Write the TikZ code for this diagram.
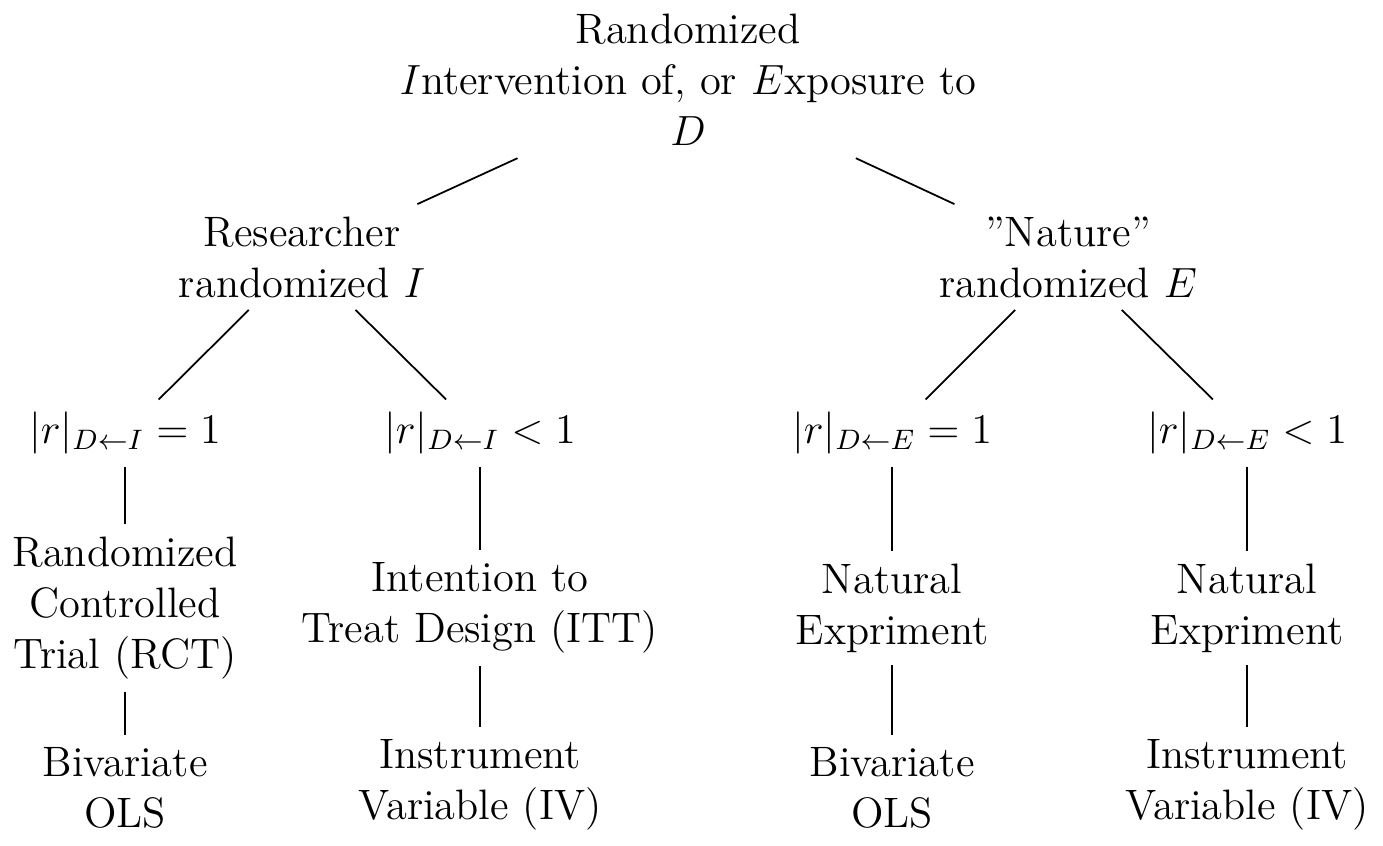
\documentclass[tikz,border=0pt]{standalone}
\usepackage{amsmath}
\begin{document}
\begin{tikzpicture}[x=0.01cm,y=-0.01cm,
  every node/.style={align=center,font=\fontsize{12.1pt}{14.5pt}\selectfont},
  link/.style={draw,line width=0.5pt}]
\useasboundingbox (0,0) rectangle (1383,845);
\node (top) at (688,80) {Randomized\\$I$ntervention of, or $E$xposure to\\$D$};
\node (res) at (302,257) {Researcher\\randomized $I$};
\node (nat) at (1068,257) {”Nature”\\randomized $E$};
\node (r1) at (125,433) {$|r|_{D\leftarrow I}=1$};
\node (r2) at (480,433) {$|r|_{D\leftarrow I}<1$};
\node (r3) at (892,433) {$|r|_{D\leftarrow E}=1$};
\node (r4) at (1247,433) {$|r|_{D\leftarrow E}<1$};
\node (rct) at (125,608) {Randomized\\Controlled\\Trial (RCT)};
\node (itt) at (480,608) {Intention to\\Treat Design (ITT)};
\node (ne1) at (892,608) {Natural\\Expriment};
\node (ne2) at (1247,608) {Natural\\Expriment};
\node (ols1) at (125,788) {Bivariate\\OLS};
\node (iv1) at (480,785) {Instrument\\Variable (IV)};
\node (ols2) at (892,788) {Bivariate\\OLS};
\node (iv2) at (1247,785) {Instrument\\Variable (IV)};
\draw[link] (top) -- (res);
\draw[link] (top) -- (nat);
\draw[link] (res) -- (r1);
\draw[link] (res) -- (r2);
\draw[link] (nat) -- (r3);
\draw[link] (nat) -- (r4);
\draw[link] (r1) -- (rct);
\draw[link] (r2) -- (itt);
\draw[link] (r3) -- (ne1);
\draw[link] (r4) -- (ne2);
\draw[link] (rct) -- (ols1);
\draw[link] (itt) -- (iv1);
\draw[link] (ne1) -- (ols2);
\draw[link] (ne2) -- (iv2);
\end{tikzpicture}
\end{document}
